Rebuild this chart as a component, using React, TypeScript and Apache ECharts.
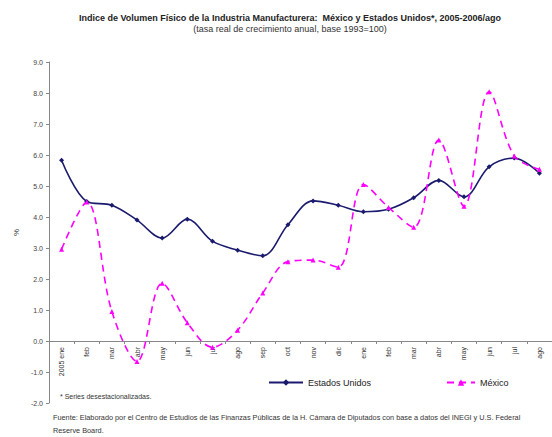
import React, { useEffect, useRef } from "react";
import * as echarts from "echarts";

const categories = [
  "2005 ene", "feb", "mar", "abr", "may", "jun", "jul", "ago", "sep", "oct", "nov", "dic",
  "ene", "feb", "mar", "abr", "may", "jun", "jul", "ago",
];
const estadosUnidos = [
  5.83, 4.5, 4.38, 3.9, 3.32, 3.93, 3.22, 2.93, 2.75, 3.75, 4.52, 4.38,
  4.17, 4.25, 4.62, 5.18, 4.65, 5.62, 5.9, 5.41,
];
const mexico = [
  2.96, 4.48, 0.95, -0.66, 1.86, 0.59, -0.2, 0.35, 1.55, 2.56, 2.61, 2.38,
  5.05, 4.31, 3.67, 6.48, 4.35, 8.04, 5.97, 5.54,
];
const yMin = -2;
const yMax = 9;

const FONT = "'Liberation Sans', Arial, sans-serif";
const GRID_TOP = 62;
const GRID_BOTTOM = 34;
const CHART_H = 437;

export default function App() {
  const ref = useRef<HTMLDivElement>(null);
  useEffect(() => {
    const chart = echarts.init(ref.current!, null, { renderer: "svg" });
    const plotH = CHART_H - GRID_TOP - GRID_BOTTOM;
    const zeroOffset = (plotH * (0 - yMin)) / (yMax - yMin);
    chart.setOption({
      animation: false,
      backgroundColor: "#ffffff",
      textStyle: { fontFamily: FONT },
      title: {
        text: "Indice de Volumen Físico de la Industria Manufacturera:  México y Estados Unidos*, 2005-2006/ago",
        subtext: "(tasa real de crecimiento anual, base 1993=100)",
        left: 285,
        textAlign: "center",
        top: 8,
        itemGap: 2,
        textStyle: { fontSize: 9, fontWeight: "bold", color: "#222", fontFamily: FONT },
        subtextStyle: { fontSize: 9, color: "#333", fontFamily: FONT },
      },
      legend: [
        {
          data: ["Estados Unidos"],
          left: 263,
          top: 373,
          itemWidth: 34,
          itemHeight: 8,
          itemGap: 4,
          textStyle: { fontSize: 9, color: "#222", fontFamily: FONT },
        },
        {
          data: ["México"],
          left: 441,
          top: 373,
          itemWidth: 28,
          itemHeight: 8,
          textStyle: { fontSize: 9, color: "#222", fontFamily: FONT },
        },
      ],
      grid: { left: 49, right: -5, top: GRID_TOP, bottom: GRID_BOTTOM, containLabel: false },
      xAxis: {
        type: "category",
        data: categories,
        boundaryGap: true,
        offset: -zeroOffset,
        axisLine: { onZero: false, lineStyle: { color: "#888", width: 1 } },
        axisTick: { show: true, length: 3, lineStyle: { color: "#888" } },
        axisLabel: { rotate: 90, fontSize: 7, color: "#333", margin: 6, interval: 0, fontFamily: FONT },
        splitLine: { show: false },
      },
      yAxis: {
        type: "value",
        min: yMin,
        max: yMax,
        interval: 1,
        name: "%",
        nameLocation: "middle",
        nameGap: 28,
        nameRotate: 90,
        nameTextStyle: { fontSize: 8, color: "#333", fontFamily: FONT },
        axisLine: { show: true, lineStyle: { color: "#888", width: 1 } },
        axisTick: { show: true, length: 3, lineStyle: { color: "#888" } },
        axisLabel: {
          fontSize: 7,
          color: "#444",
          margin: 6,
          formatter: (v: number) => v.toFixed(1),
          fontFamily: FONT,
        },
        splitLine: { show: false },
      },
      series: [
        {
          name: "Estados Unidos",
          type: "line",
          data: estadosUnidos,
          smooth: 0.35,
          symbol: "diamond",
          symbolSize: 5,
          lineStyle: { color: "#1a1a6e", width: 1.6 },
          itemStyle: { color: "#1a1a6e" },
        },
        {
          name: "México",
          type: "line",
          data: mexico,
          smooth: 0.35,
          symbol: "triangle",
          symbolSize: 5,
          lineStyle: { color: "#ff00ff", width: 1.6, type: [7, 5] },
          itemStyle: { color: "#ff00ff" },
        },
      ],
      graphic: [
        {
          type: "text",
          left: 60,
          top: 393,
          style: { text: "* Series desestacionalizadas.", fontSize: 7, fill: "#333", fontFamily: FONT },
        },
        {
          type: "text",
          left: 53,
          top: 411,
          style: {
            text:
              "Fuente: Elaborado por el Centro de Estudios de las Finanzas Públicas de la H. Cámara de Diputados con base a datos del INEGI y U.S. Federal\nReserve Board.",
            fontSize: 7.3,
            lineHeight: 13,
            fill: "#333",
            fontFamily: FONT,
          },
        },
      ],
    });
    return () => chart.dispose();
  }, []);
  return <div ref={ref} style={{ width: 552, height: 437, position: "absolute", left: 0, top: 0 }} />;
}
